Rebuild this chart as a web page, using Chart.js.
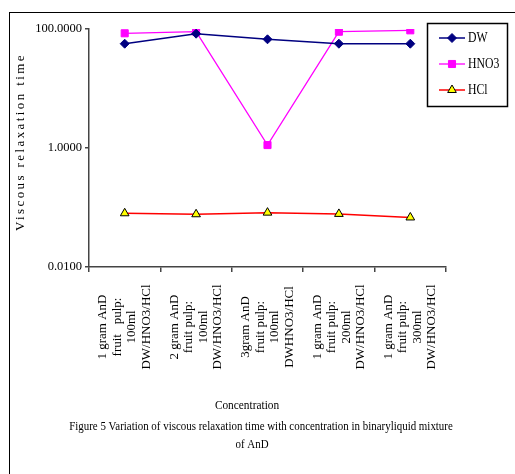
<!DOCTYPE html>
<html>
<head>
<meta charset="utf-8">
<script src="https://cdn.jsdelivr.net/npm/chart.js@4.4.1/dist/chart.umd.min.js"></script>
<style>
  html, body { margin: 0; padding: 0; background: #fff; }
  #wrap { position: relative; width: 515px; height: 474px; overflow: hidden; }
  #frame { position: absolute; left: 9px; top: 12px; right: -5px; bottom: -5px;
           border-left: 1.5px solid #000; border-top: 1.5px solid #000; }
  canvas { position: absolute; left: 0; top: 0; }
</style>
</head>
<body>
<div id="wrap">
  <div id="frame"></div>
  <canvas id="c" width="515" height="474"></canvas>
</div>
<script>
// Category labels (one array of lines per category)
const categories = [
  ['1 gram AnD', 'fruit   pulp:', '100ml', 'DW/HNO3/HCl'],
  ['2 gram AnD', 'fruit pulp:', '100ml', 'DW/HNO3/HCl'],
  ['3gram AnD', 'fruit pulp:', '100ml', 'DWHNO3/HCl'],
  ['1 gram AnD', 'fruit pulp:', '200ml', 'DW/HNO3/HCl'],
  ['1 gram AnD', 'fruit pulp:', '300ml', 'DW/HNO3/HCl']
];

// Viscous relaxation time per solvent
const dwValues   = [56.6, 83.4, 67.1, 56.6, 56.6];
const hno3Values = [84.7, 90.0, 1.12, 90.0, 95.0];
const hclValues  = [0.080, 0.077, 0.082, 0.078, 0.068];

const seriesNames = ['DW', 'HNO3', 'HCl'];
const yTickValues = [0.01, 1, 100];

const xTitle = 'Concentration';
const yTitle = 'Viscous relaxation time';
const captionLines = [
  'Figure 5 Variation of viscous relaxation time with concentration in binaryliquid mixture',
  'of AnD'
];

const SERIF = "'Liberation Serif', 'Times New Roman', serif";

function drawText(ctx, text, x, y, size, sx, align) {
  ctx.save();
  ctx.translate(x, y);
  ctx.scale(sx, 1);
  ctx.font = size + 'px ' + SERIF;
  ctx.fillStyle = '#000';
  ctx.textAlign = align || 'center';
  ctx.textBaseline = 'middle';
  ctx.fillText(text, 0, 0);
  ctx.restore();
}

// Draws centred, rotated category labels, axis titles, caption and boxed legend
const decorations = {
  id: 'decorations',
  afterDraw(chart) {
    const ctx = chart.ctx;
    const xs = chart.scales.x;

    // rotated multi-line category labels, each line centred
    const lineGap = 14.5;
    categories.forEach((lines, i) => {
      const cx = xs.getPixelForValue(i);
      lines.forEach((line, j) => {
        const lx = cx + (j - (lines.length - 1) / 2) * lineGap;
        ctx.save();
        ctx.translate(lx, 327);
        ctx.rotate(-Math.PI / 2);
        ctx.font = '13px ' + SERIF;
        ctx.fillStyle = '#000';
        ctx.textAlign = 'center';
        ctx.textBaseline = 'middle';
        ctx.fillText(line, 0, 0);
        ctx.restore();
      });
    });

    // y-axis title
    ctx.save();
    ctx.translate(21, 142);
    ctx.rotate(-Math.PI / 2);
    ctx.font = '13px ' + SERIF;
    ctx.letterSpacing = '2.4px';
    ctx.fillStyle = '#000';
    ctx.textAlign = 'center';
    ctx.textBaseline = 'middle';
    ctx.fillText(yTitle, 0, 0);
    ctx.restore();

    // x-axis title and caption
    drawText(ctx, xTitle, 247, 405, 13.5, 0.84);
    drawText(ctx, captionLines[0], 261, 427, 13, 0.84);
    drawText(ctx, captionLines[1], 252, 445, 13, 0.84);

    // legend box
    ctx.save();
    ctx.strokeStyle = '#000';
    ctx.lineWidth = 1.5;
    ctx.strokeRect(427.5, 23.5, 80, 83);
    const rowsY = [38, 64, 90];
    chart.data.datasets.forEach((ds, i) => {
      const y = rowsY[i];
      ctx.strokeStyle = ds.borderColor;
      ctx.lineWidth = ds.borderWidth;
      ctx.beginPath();
      ctx.moveTo(439, y);
      ctx.lineTo(465, y);
      ctx.stroke();
      ctx.fillStyle = ds.pointBackgroundColor;
      ctx.strokeStyle = ds.pointBorderColor;
      ctx.lineWidth = ds.pointBorderWidth;
      Chart.helpers.drawPoint(ctx, {
        pointStyle: ds.pointStyle, radius: ds.pointRadius,
        rotation: 0, borderWidth: ds.pointBorderWidth
      }, 452, y);
      drawText(ctx, ds.label, 468, y, 14, 0.84, 'left');
    });
    ctx.restore();
  }
};

const axisColor = '#444';

new Chart(document.getElementById('c'), {
  type: 'line',
  data: {
    labels: categories,
    datasets: [
      {
        label: seriesNames[0], data: dwValues,
        borderColor: '#000080', borderWidth: 1.5,
        pointStyle: 'rectRot', pointRadius: 4.5,
        pointBackgroundColor: '#000080', pointBorderColor: '#000080', pointBorderWidth: 1,
        tension: 0
      },
      {
        label: seriesNames[1], data: hno3Values,
        borderColor: '#FF00FF', borderWidth: 1.3,
        pointStyle: 'rect', pointRadius: 5,
        pointBackgroundColor: '#FF00FF', pointBorderColor: '#FF00FF', pointBorderWidth: 1,
        tension: 0
      },
      {
        label: seriesNames[2], data: hclValues,
        borderColor: '#FF0000', borderWidth: 1.5,
        pointStyle: 'triangle', pointRadius: 5,
        pointBackgroundColor: '#FFFF00', pointBorderColor: '#000000', pointBorderWidth: 1,
        tension: 0
      }
    ]
  },
  options: {
    responsive: false,
    animation: false,
    layout: { padding: { left: 0, top: 29, right: 69, bottom: 0 } },
    plugins: {
      legend: { display: false },
      tooltip: { enabled: false }
    },
    scales: {
      x: {
        type: 'category',
        offset: true,
        grid: { offset: true, drawOnChartArea: false, drawTicks: true, tickLength: 5,
                color: axisColor, lineWidth: 1.5 },
        border: { color: axisColor, width: 1.5 },
        ticks: { display: false, autoSkip: false },
        afterFit(s) { s.height = 207; }
      },
      y: {
        type: 'logarithmic',
        min: 0.01,
        max: 100,
        afterBuildTicks(s) { s.ticks = yTickValues.map(v => ({ value: v })); },
        grid: { drawOnChartArea: false, drawTicks: true, tickLength: 4,
                color: axisColor, lineWidth: 1.5 },
        border: { color: axisColor, width: 1.5 },
        ticks: {
          color: '#000', padding: 3,
          font: { family: SERIF, size: 12.5 },
          callback: v => Number(v).toFixed(4)
        },
        afterFit(s) { s.width = 89; }
      }
    }
  },
  plugins: [decorations]
});
</script>
</body>
</html>
